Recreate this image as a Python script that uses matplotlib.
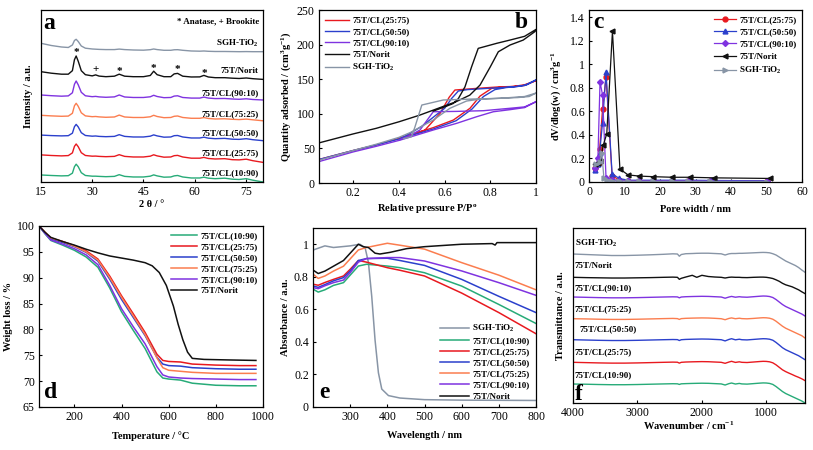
import numpy as np
import matplotlib
matplotlib.use("Agg")
import matplotlib.pyplot as plt

plt.rcParams['font.family'] = 'Liberation Serif'
plt.rcParams['mathtext.fontset'] = 'custom'
plt.rcParams['mathtext.rm'] = 'Liberation Serif'
plt.rcParams['mathtext.bf'] = 'Liberation Serif:bold'
plt.rcParams['mathtext.default'] = 'regular'
plt.rcParams['axes.linewidth'] = 0.9

GREEN = '#27ab78'
RED = '#e8191f'
BLUE = '#2b40cc'
ORANGE = '#fb7d4f'
PURPLE = '#7f33e0'
GRAY = '#8895a6'
BLACK = '#111111'

# ---------------- (a) XRD ----------------
xrd_x = [15, 18, 21, 23, 24.2, 24.8, 25.3, 25.9, 26.8, 28, 30, 31, 32, 34, 36.5, 37.9, 39.5, 42, 45, 47,
         48, 49, 51, 53, 54, 55, 56.5, 59, 61.5, 62.7, 64, 66, 68.8, 71, 73, 75.1, 77, 80]
xrd_10_90 = [1.7, 1.2, 0.8, 1.0, 3.5, 10, 12.5, 10, 4, 1.2, 0.5, 0.5, 0.3, 0, 0.3, 2.0, 0.3, -0.3, -0.3, 0.5,
             1.8, 0.8, -0.5, -0.3, 0.8, 1.2, -0.3, -1.3, -1.3, -0.5, -1.5, -2, -1.5, -2.5, -2.8, -2, -3.5, -5.3]
xrd_25_75 = [1.8, 1.2, 0.8, 1.1, 3.8, 10.3, 12.7, 10, 4, 1.2, 0.5, 0.6, 0.3, 0, 0.3, 2.0, 0.3, -0.3, -0.3, 0.5,
             1.9, 0.8, -0.5, -0.3, 1.0, 1.3, -0.3, -1.5, -1.5, -0.7, -1.8, -2.3, -2, -3, -3.2, -2.5, -4, -5.7]
xrd_50_50 = [1.6, 1.1, 0.8, 1.0, 3.5, 10, 12.3, 9.8, 4, 1.2, 0.5, 0.7, 0.3, 0, 0.3, 2.0, 0.3, -0.3, -0.3, 0.5,
             1.8, 0.8, -0.5, -0.3, 1.0, 1.2, -0.3, -1.3, -1.3, -0.5, -1.5, -2, -1.7, -2.5, -2.7, -2, -3, -4.0]
xrd_75_25 = [2.0, 1.4, 1.0, 1.2, 4, 11.5, 14, 11, 4.5, 1.4, 0.6, 0.8, 0.4, 0, 0.3, 2.2, 0.3, -0.2, -0.2, 0.5,
             2.0, 0.8, -0.4, -0.2, 1.0, 1.3, -0.2, -1.0, -1.0, -0.3, -1.2, -1.7, -1.5, -2, -2.3, -1.8, -2.5, -3.5]
xrd_90_10 = [2.3, 1.6, 1.1, 1.4, 4.5, 13, 16.3, 12.5, 5, 1.5, 0.6, 0.9, 0.4, 0, 0.4, 2.3, 0.3, -0.2, -0.2, 0.5,
             2.0, 0.8, -0.4, -0.2, 1.2, 1.5, -0.2, -0.8, -0.8, 0.2, -0.8, -1.3, -1.2, -1.7, -2, -1.5, -2.2, -2.7]
xrd_norit = [5.0, 3.5, 2.5, 2.5, 6, 17, 20.7, 15.5, 6, 2, 0.8, 1.8, 0.6, 0, 0.5, 2.5, 0.5, 0, 0, 1.2,
             5.5, 2.0, 0, 0, 2.8, 3.3, 0.5, -0.3, -0.2, 1.3, -0.3, -1, -1, -1.5, -1.8, -1.3, -2, -2.7]
xrd_sgh = [6.7, 4.5, 3.0, 2.5, 5, 9.5, 10.7, 8.5, 4, 1.8, 1.0, 0.8, 0.6, 0.4, 0.4, 0.9, 0.4, 0, -0.2, 0.3,
           1.0, 0.4, -0.3, -0.3, 0.2, 0.3, -0.3, -1, -1.2, -1.0, -1.3, -1.5, -1.5, -1.6, -1.7, -1.6, -1.7, -1.7]
xrd_offsets = [5.3, 25.3, 45.3, 64.7, 84.7, 105.3, 132.0]
xrd_label_y = [8.7, 28.7, 48.7, 68.0, 88.7, 111.0, 138.7]
xrd_names = ['75T/CL(10:90)', '75T/CL(25:75)', '75T/CL(50:50)', '75T/CL(75:25)',
             '75T/CL(90:10)', '75T/Norit', 'SGH-TiO$_2$']
xrd_series = [xrd_10_90, xrd_25_75, xrd_50_50, xrd_75_25, xrd_90_10, xrd_norit, xrd_sgh]
xrd_colors = [GREEN, RED, BLUE, ORANGE, PURPLE, BLACK, GRAY]
anatase_x = [25.3, 37.9, 48, 54.8, 62.9]
anatase_y = [129.5, 110.5, 113.0, 112.0, 108.5]
brookite_x = [30.9]
brookite_y = [112]

# ---------------- (b) N2 isotherms ----------------
iso_norit_x = [0.05, 0.2, 0.3, 0.4, 0.49, 0.58, 0.65, 0.71, 0.755, 0.8, 0.835, 0.886, 0.944, 0.996, 1.0,
               0.95, 0.886, 0.828, 0.747, 0.718, 0.689, 0.66, 0.638, 0.6, 0.55]
iso_norit_y = [58, 71, 79, 88.5, 98, 109, 117.5, 127, 141.6, 168, 189.7, 199.4, 206.6, 219, 222,
               212, 206.6, 201.9, 194.6, 168, 139, 122, 115, 110, 104]
iso_2575_x = [0.05, 0.2, 0.3, 0.405, 0.55, 0.638, 0.711, 0.755, 0.806, 0.85, 0.9, 0.95, 1.0,
              0.95, 0.9, 0.842, 0.75, 0.645, 0.62, 0.58, 0.514, 0.45, 0.405]
iso_2575_y = [34, 47, 55, 65, 80, 91, 108, 125.7, 136.8, 138.5, 139.5, 142, 148,
              141, 139.5, 139, 137, 134.4, 124, 100.7, 76.6, 69, 65]
iso_5050_x = [0.05, 0.2, 0.3, 0.405, 0.55, 0.65, 0.72, 0.77, 0.82, 0.87, 0.92, 0.96, 1.0,
              0.95, 0.9, 0.8, 0.7, 0.66, 0.63, 0.6, 0.55, 0.5, 0.45, 0.405]
iso_5050_y = [34, 47, 55, 64, 78, 90, 107, 125, 135, 138, 139.5, 142, 149,
              141, 139, 137, 135, 133, 122, 108, 95, 82, 72, 64]
iso_9010_x = [0.05, 0.2, 0.3, 0.405, 0.55, 0.653, 0.74, 0.813, 0.886, 0.95, 1.0,
              0.95, 0.886, 0.77, 0.65, 0.55, 0.492, 0.45, 0.405]
iso_9010_y = [31, 45, 53, 62, 76.6, 86.3, 95.8, 103, 106, 109, 117.5,
              110, 108, 104.5, 103.5, 103, 76.6, 69, 63]
iso_sgh_x = [0.05, 0.2, 0.3, 0.4, 0.45, 0.55, 0.623, 0.696, 0.75, 0.842, 0.92, 0.97, 1.0,
             0.95, 0.842, 0.726, 0.594, 0.5, 0.47, 0.455, 0.42]
iso_sgh_y = [33, 47, 56, 66, 73, 91, 108, 118.5, 121, 122.5, 123.5, 125, 130,
             125, 122.4, 121.4, 120, 112.7, 81, 67, 64]
iso_names = ['75T/CL(25:75)', '75T/CL(50:50)', '75T/CL(90:10)', '75T/Norit', 'SGH-TiO$_2$']

# ---------------- (c) pore size distribution ----------------
psd_2575_x = [1.8, 2.5, 3.0, 3.8, 4.8, 6.5, 8.5, 11, 14, 18, 23.5, 28, 34, 50]
psd_2575_y = [0.12, 0.15, 0.28, 0.62, 0.89, 0.05, 0.02, 0.012, 0.01, 0.01, 0.01, 0.01, 0.01, 0.008]
psd_5050_x = [1.8, 2.5, 3.0, 3.8, 4.8, 6.5, 8.5, 11, 14.2, 18.1, 23.5, 28.5, 34.5, 50]
psd_5050_y = [0.10, 0.15, 0.25, 0.50, 0.93, 0.07, 0.03, 0.015, 0.015, 0.015, 0.015, 0.015, 0.013, 0.01]
psd_9010_x = [1.8, 2.5, 3.1, 3.8, 4.8, 6.5, 8.5, 11, 14, 18, 23.5, 28, 34, 50]
psd_9010_y = [0.12, 0.20, 0.85, 0.74, 0.03, 0.02, 0.012, 0.01, 0.008, 0.008, 0.008, 0.008, 0.007, 0.005]
psd_norit_x = [1.8, 2.5, 3.2, 4.0, 5.0, 6.6, 8.7, 11, 14.2, 18.1, 23.5, 28.5, 35.3, 51.1]
psd_norit_y = [0.15, 0.16, 0.18, 0.31, 0.41, 1.28, 0.11, 0.06, 0.05, 0.045, 0.04, 0.04, 0.035, 0.03]
psd_sgh_x = [2.0, 3.0, 3.6, 4.2, 5.0, 6.5, 8.5, 11, 14, 18, 23.5, 28, 34, 50]
psd_sgh_y = [0.15, 0.17, 0.25, 0.03, 0.02, 0.01, 0.008, 0.006, 0.005, 0.005, 0.005, 0.005, 0.005, 0.004]

# ---------------- (d) TGA ----------------
tga_x = [50, 75, 100, 150, 200, 250, 300, 350, 400, 450, 500, 550, 575, 600, 650, 700, 800, 900, 970]
tga_10_90 = [100, 98.5, 97.2, 96.3, 95.3, 94.0, 92.0, 88.0, 83.4, 79.8, 76.3, 71.8, 70.6, 70.4, 70.2, 69.6, 69.2, 69.1, 69.1]
tga_25_75 = [100, 98.8, 97.6, 97.0, 96.2, 95.2, 93.6, 90.3, 86.5, 83.0, 79.4, 75.2, 74.0, 73.8, 73.7, 73.3, 73.1, 73.0, 73.0]
tga_50_50 = [100, 98.7, 97.5, 96.8, 96.0, 94.9, 93.2, 89.7, 85.8, 82.3, 78.8, 74.6, 73.3, 73.0, 72.9, 72.6, 72.4, 72.3, 72.3]
tga_75_25 = [100, 98.8, 97.7, 97.0, 96.1, 95.0, 93.4, 90.0, 86.2, 82.6, 79.0, 74.5, 72.6, 72.1, 71.9, 71.7, 71.5, 71.5, 71.5]
tga_90_10 = [100, 98.6, 97.3, 96.5, 95.6, 94.4, 92.5, 88.5, 84.0, 80.5, 77.2, 72.8, 71.2, 70.8, 70.6, 70.5, 70.4, 70.3, 70.3]
tga_norit_x = [50, 75, 100, 150, 200, 250, 300, 350, 400, 450, 500, 530, 560, 590, 620, 640, 660, 680, 700, 750, 850, 970]
tga_norit_y = [100, 98.8, 97.8, 97.0, 96.3, 95.5, 94.8, 94.2, 93.8, 93.4, 92.9, 92.3, 91.0, 88.5, 84.5, 81.0, 78.0, 75.6, 74.4, 74.2, 74.1, 74.0]

# ---------------- (e) UV-vis ----------------
uv_x = [201, 214, 232, 255, 282, 300, 322, 344, 400, 434, 500, 600, 700, 800]
uv_10_90 = [0.723, 0.706, 0.72, 0.747, 0.764, 0.81, 0.866, 0.877, 0.866, 0.856, 0.825, 0.743, 0.63, 0.513]
uv_25_75 = [0.754, 0.748, 0.765, 0.784, 0.805, 0.846, 0.90, 0.89, 0.856, 0.84, 0.805, 0.70, 0.58, 0.45]
uv_50_50 = [0.743, 0.735, 0.752, 0.775, 0.795, 0.835, 0.90, 0.912, 0.914, 0.90, 0.87, 0.784, 0.68, 0.58]
uv_75_25 = [0.815, 0.79, 0.805, 0.835, 0.865, 0.91, 0.965, 0.98, 1.006, 0.994, 0.97, 0.887, 0.81, 0.72]
uv_90_10 = [0.733, 0.727, 0.745, 0.764, 0.78, 0.825, 0.89, 0.912, 0.918, 0.918, 0.897, 0.836, 0.764, 0.686]
uv_norit_x = [201, 214, 232, 255, 282, 300, 322, 335, 349, 367, 380, 407, 452, 500, 600, 682, 690, 695, 800]
uv_norit_y = [0.84, 0.82, 0.835, 0.865, 0.90, 0.945, 1.0, 0.985, 0.98, 0.945, 0.94, 0.95, 0.973, 0.985, 1.0, 1.004, 0.995, 1.01, 1.01]
uv_sgh_x = [201, 232, 255, 300, 326, 340, 349, 358, 367, 376, 385, 403, 434, 500, 600, 800]
uv_sgh_y = [0.965, 0.99, 0.98, 0.99, 1.0, 0.98, 0.89, 0.68, 0.41, 0.21, 0.11, 0.07, 0.055, 0.045, 0.042, 0.04]

# ---------------- (f) FTIR ----------------
ir_x = [4000, 3800, 3600, 3400, 3200, 3000, 2800, 2600, 2450, 2380, 2350, 2320, 2250, 2150, 2080, 2000, 1900,
        1800, 1700, 1640, 1580, 1540, 1480, 1420, 1380, 1300, 1200, 1100, 1050, 1000, 950, 900, 850, 800,
        750, 700, 650, 600, 550, 500, 450, 400]
ir_sgh = [0, -0.5, -1, -1.5, -1.5, -1.2, -0.8, -0.3, 0.2, 0, -2.2, -0.5, 0.3, 0.5, 0.7, 0.8, 0.8,
          0.5, 0.2, -1, 0.2, 0.5, 0.5, 0.7, 0.7, 0.9, 1.2, 1.5, 1.6, 1.5, 1.2, 0.3, -1, -3,
          -5, -7, -8.5, -10, -11.5, -13.5, -16, -18.3]
ir_norit = [0, -0.3, -0.5, -0.7, -0.7, -0.5, -0.3, 0, 0.2, 0, -2, -1, 0.3, 2, 0, 2, 0.8,
            0.3, 0, -0.7, 0, 0.2, 0, 0, -0.2, -0.3, 0, 0.2, 0.2, 0, -0.5, -1.2, -2.5, -4,
            -6, -7.5, -8.5, -9.5, -11, -12.5, -14.5, -16.3]
ir_90_10 = [0, -0.3, -0.6, -0.8, -0.8, -0.6, -0.3, 0, 0.2, 0.1, -0.8, 0, 0.3, 0.5, 0.6, 0.7, 0.6,
            0.3, 0, -1.2, 0, 0.6, -0.2, 0.3, 0, -0.2, 0.3, 0.8, 1, 0.9, 0.5, -0.5, -2.5, -5,
            -7.5, -9.5, -11, -12.5, -14, -15.5, -17, -19]
ir_75_25 = [0, -0.2, -0.5, -0.7, -0.7, -0.5, -0.2, 0.1, 0.3, 0.1, -0.7, 0.1, 0.4, 0.6, 0.7, 0.8, 0.7,
            0.4, 0, -1.0, 0.3, 0.8, 0, 0.5, 0.1, -0.1, 0.3, 0.8, 1, 0.9, 0.5, -0.5, -2.5, -5,
            -7.5, -9.5, -11, -12.5, -14, -15.5, -17, -19.3]
ir_50_50 = [0, -0.3, -0.6, -0.8, -0.8, -0.6, -0.3, 0, 0.2, 0.1, -0.8, 0, 0.3, 0.5, 0.6, 0.7, 0.6,
            0.3, 0, -1.2, 0.3, 1.0, -0.1, 0.5, 0, -0.2, 0.3, 0.8, 1, 0.9, 0.5, -0.5, -2.7, -5.3,
            -8, -10, -11.5, -13, -14.5, -16, -18, -20]
ir_25_75 = [0, -0.3, -0.6, -0.8, -0.8, -0.6, -0.3, 0, 0.2, 0.1, -0.8, 0, 0.3, 0.5, 0.6, 0.7, 0.6,
            0.3, 0, -1.0, 0.3, 1.0, -0.1, 0.5, 0, -0.2, 0.3, 0.8, 1, 0.9, 0.5, -0.5, -2.5, -5,
            -7.5, -9.3, -10.8, -12.2, -13.7, -15, -16.5, -18.3]
ir_10_90 = [0, -0.2, -0.5, -0.7, -0.7, -0.5, -0.2, 0.1, 0.3, 0.2, -0.4, 0.2, 0.4, 0.6, 0.7, 0.8, 0.7,
            0.4, 0.1, -1.0, 0.4, 1.0, 0, 0.6, 0.1, -0.1, 0.4, 0.9, 1.1, 1.0, 0.6, -0.4, -2.5, -5,
            -7.5, -9.5, -11, -12.5, -14, -15.5, -17, -19]
ir_offsets = [149, 125.7, 106, 84.3, 63.3, 40.7, 19]
ir_label_y = [159.3, 136.7, 115, 94, 74, 51, 27.7]
ir_label_x = [3970, 3970, 3970, 3970, 3900, 3970, 3970]
ir_names = ['SGH-TiO$_2$', '75T/Norit', '75T/CL(90:10)', '75T/CL(75:25)',
            '75T/CL(50:50)', '75T/CL(25:75)', '75T/CL(10:90)']
ir_series = [ir_sgh, ir_norit, ir_90_10, ir_75_25, ir_50_50, ir_25_75, ir_10_90]
ir_colors = [GRAY, BLACK, PURPLE, ORANGE, BLUE, RED, GREEN]

fig = plt.figure(figsize=(8.13, 4.5), dpi=100)

TICK = 8.5
LAB = 7.5
LEG = 6.5
BOLD = {'weight': 'bold', 'size': LEG}


def style(ax):
    ax.tick_params(direction='in', length=2.5, width=0.8, labelsize=TICK, pad=3)


def letter(ax, s, x, y, va='center'):
    ax.text(x, y, s, transform=ax.transAxes, fontsize=17, fontweight='bold', va=va, ha='left')


# (a)
ax = fig.add_axes([0.0504, 0.5956, 0.2731, 0.3822])
for ys, off, col in zip(xrd_series, xrd_offsets, xrd_colors):
    ax.plot(xrd_x, np.array(ys) + off, color=col, lw=1.0)
for name, ly in zip(xrd_names, xrd_label_y):
    ax.text(78.8, ly, name, ha='right', va='center', fontsize=LEG, fontweight='bold')
for xx, yy in zip(anatase_x, anatase_y):
    ax.text(xx, yy, '*', ha='center', va='center', fontsize=8, fontweight='bold')
for xx, yy in zip(brookite_x, brookite_y):
    ax.text(xx, yy, '+', ha='center', va='center', fontsize=8, fontweight='bold')
ax.text(78.8, 161, '* Anatase, + Brookite', ha='right', va='center', fontsize=LEG, fontweight='bold')
ax.set_xlim(15, 80)
ax.set_ylim(0, 172)
ax.set_xticks([15, 30, 45, 60, 75])
ax.set_yticks([])
ax.set_xlabel('2 θ / °', fontsize=LAB, fontweight='bold', labelpad=1)
ax.set_ylabel('Intensity / a.u.', fontsize=LAB, fontweight='bold', labelpad=6)
style(ax)
letter(ax, 'a', 0.01, 0.92)

# (b)
ax = fig.add_axes([0.3924, 0.5933, 0.2669, 0.3844])
ax.plot(iso_2575_x, iso_2575_y, color=RED, lw=1.0, label=iso_names[0])
ax.plot(iso_5050_x, iso_5050_y, color=BLUE, lw=1.0, label=iso_names[1])
ax.plot(iso_9010_x, iso_9010_y, color=PURPLE, lw=1.0, label=iso_names[2])
ax.plot(iso_norit_x, iso_norit_y, color=BLACK, lw=1.0, label=iso_names[3])
ax.plot(iso_sgh_x, iso_sgh_y, color=GRAY, lw=1.0, label=iso_names[4])
ax.set_xlim(0.05, 1.0)
ax.set_ylim(0, 250)
ax.set_xticks([0.2, 0.4, 0.6, 0.8, 1.0])
ax.set_xticklabels(['0.2', '0.4', '0.6', '0.8', '1'])
ax.set_yticks([0, 50, 100, 150, 200, 250])
ax.set_xlabel('Relative pressure P/P$^o$', fontsize=LAB, fontweight='bold', labelpad=2)
ax.set_ylabel('Quantity adsorbed / (cm$^3$g$^{-1}$)', fontsize=LAB, fontweight='bold', labelpad=3)
ax.legend(loc='upper left', prop=BOLD, frameon=False, handlelength=2.6, labelspacing=0.35,
          borderaxespad=0.3, handletextpad=0.4)
style(ax)
letter(ax, 'b', 0.9, 0.93)

# (c)
ax = fig.add_axes([0.7245, 0.5956, 0.262, 0.3822])
ax.plot(psd_2575_x, psd_2575_y, color=RED, lw=0.9, marker='o', ms=3.5, label='75T/CL(25:75)')
ax.plot(psd_5050_x, psd_5050_y, color=BLUE, lw=0.9, marker='^', ms=3.5, label='75T/CL(50:50)')
ax.plot(psd_9010_x, psd_9010_y, color=PURPLE, lw=0.9, marker='D', ms=3, label='75T/CL(90:10)')
ax.plot(psd_norit_x, psd_norit_y, color=BLACK, lw=0.9, marker='<', ms=3.5, label='75T/Norit')
ax.plot(psd_sgh_x, psd_sgh_y, color=GRAY, lw=0.9, marker='>', ms=3.5, label='SGH-TiO$_2$')
ax.set_xlim(0, 60)
ax.set_ylim(0, 1.46)
ax.set_xticks([0, 10, 20, 30, 40, 50, 60])
ax.set_yticks([0, 0.2, 0.4, 0.6, 0.8, 1.0, 1.2, 1.4])
ax.set_yticklabels(['0', '0.2', '0.4', '0.6', '0.8', '1', '1.2', '1.4'])
ax.set_xlabel('Pore width / nm', fontsize=LAB, fontweight='bold', labelpad=5)
ax.set_ylabel('dV/dlog(w) / cm$^3$g$^{-1}$', fontsize=LAB, fontweight='bold', labelpad=5)
ax.legend(loc='upper right', prop=BOLD, frameon=False, handlelength=2.4, labelspacing=0.45,
          borderaxespad=0.2, handletextpad=0.4)
style(ax)
letter(ax, 'c', 0.02, 0.93)

# (d)
ax = fig.add_axes([0.048, 0.0956, 0.2755, 0.4022])
ax.plot(tga_x, tga_10_90, color=GREEN, lw=1.1, label='75T/CL(10:90)')
ax.plot(tga_x, tga_25_75, color=RED, lw=1.1, label='75T/CL(25:75)')
ax.plot(tga_x, tga_50_50, color=BLUE, lw=1.1, label='75T/CL(50:50)')
ax.plot(tga_x, tga_75_25, color=ORANGE, lw=1.1, label='75T/CL(75:25)')
ax.plot(tga_x, tga_90_10, color=PURPLE, lw=1.1, label='75T/CL(90:10)')
ax.plot(tga_norit_x, tga_norit_y, color=BLACK, lw=1.1, label='75T/Norit')
ax.set_xlim(50, 1000)
ax.set_ylim(65, 100)
ax.set_xticks([200, 400, 600, 800, 1000])
ax.set_yticks([65, 70, 75, 80, 85, 90, 95, 100])
ax.set_xlabel('Temperature / °C', fontsize=LAB, fontweight='bold', labelpad=6)
ax.set_ylabel('Weight loss / %', fontsize=LAB, fontweight='bold', labelpad=3)
ax.legend(loc='upper right', prop=BOLD, frameon=False, handlelength=2.8, labelspacing=0.3,
          borderaxespad=0.2, handletextpad=0.4)
style(ax)
letter(ax, 'd', 0.02, 0.05, va='baseline')

# (e)
ax = fig.add_axes([0.385, 0.0956, 0.2743, 0.3978])
ax.plot(uv_sgh_x, uv_sgh_y, color=GRAY, lw=1.1, label='SGH-TiO$_2$')
ax.plot(uv_x, uv_10_90, color=GREEN, lw=1.1, label='75T/CL(10:90)')
ax.plot(uv_x, uv_25_75, color=RED, lw=1.1, label='75T/CL(25:75)')
ax.plot(uv_x, uv_50_50, color=BLUE, lw=1.1, label='75T/CL(50:50)')
ax.plot(uv_x, uv_75_25, color=ORANGE, lw=1.1, label='75T/CL(75:25)')
ax.plot(uv_x, uv_90_10, color=PURPLE, lw=1.1, label='75T/CL(90:10)')
ax.plot(uv_norit_x, uv_norit_y, color=BLACK, lw=1.1, label='75T/Norit')
ax.set_xlim(200, 800)
ax.set_ylim(0, 1.1)
ax.set_xticks([300, 400, 500, 600, 700, 800])
ax.set_yticks([0, 0.2, 0.4, 0.6, 0.8, 1.0])
ax.set_yticklabels(['0', '0.2', '0.4', '0.6', '0.8', '1'])
ax.set_xlabel('Wavelength / nm', fontsize=LAB, fontweight='bold', labelpad=6)
ax.set_ylabel('Absorbance / a.u.', fontsize=LAB, fontweight='bold', labelpad=3)
ax.legend(loc='lower right', prop=BOLD, frameon=False, handlelength=3.2, labelspacing=0.3,
          borderaxespad=0.3, handletextpad=0.4)
style(ax)
letter(ax, 'e', 0.027, 0.05, va='baseline')

# (f)
ax = fig.add_axes([0.7048, 0.1044, 0.2854, 0.3889])
for ys, off, col in zip(ir_series, ir_offsets, ir_colors):
    ax.plot(ir_x, np.array(ys) + off, color=col, lw=1.0)
for name, lx, ly in zip(ir_names, ir_label_x, ir_label_y):
    ax.text(lx, ly, name, ha='left', va='center', fontsize=LEG, fontweight='bold')
ax.set_xlim(4000, 400)
ax.set_ylim(0, 175)
ax.set_xticks([4000, 3000, 2000, 1000])
ax.set_yticks([])
ax.set_xlabel('Wavenumber / cm$^{-1}$', fontsize=LAB, fontweight='bold', labelpad=0)
ax.set_ylabel('Transmittance / a.u.', fontsize=LAB, fontweight='bold', labelpad=6)
style(ax)
letter(ax, 'f', 0.01, 0.02, va='baseline')

fig.savefig('out.png', dpi=100)
